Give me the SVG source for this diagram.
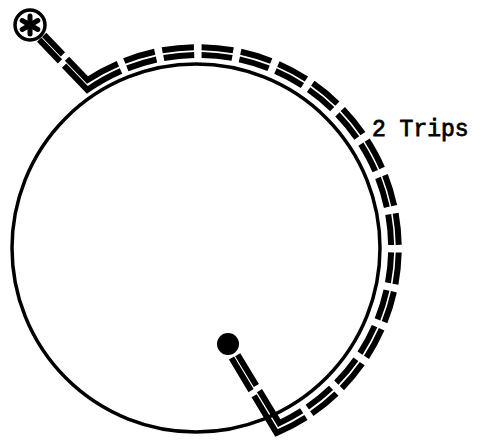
<svg xmlns="http://www.w3.org/2000/svg" width="485" height="441" viewBox="0 0 485 441">
<style>
.thin{fill:none;stroke:#000;stroke-width:3.5}
.trk{fill:none;stroke:#000;stroke-width:6;stroke-linejoin:miter}
.lbl{font-family:"Liberation Mono","Courier New",monospace;font-size:23px;fill:#000;stroke:#000;stroke-width:0.8}
</style>
<rect width="485" height="441" fill="#fff"/>
<g id="loop">
<circle class="thin" cx="196" cy="248" r="184"/>
</g>
<g id="start">
<circle cx="30" cy="25" r="15" fill="#fff" stroke="#000" stroke-width="3.5"/>
<g stroke="#000" stroke-width="5" stroke-linecap="round">
<line x1="30" y1="16" x2="30" y2="34"/>
<line x1="22.2" y1="20.5" x2="37.8" y2="29.5"/>
<line x1="22.2" y1="29.5" x2="37.8" y2="20.5"/>
</g>
</g>
<g id="end">
<circle cx="228" cy="344" r="11" fill="#000"/>
</g>
<g id="connectors">
<path class="trk" d="M39.2,39.7 L87.3,89.9 A193,193 0 0 1 121.0,71.0" stroke-dasharray="30 6 1000"/>
<path class="trk" d="M44.2,34.9 L87.5,80 A201,201 0 0 1 117.9,63.7" stroke-dasharray="27 6 1000"/>
<path class="trk" d="M127.3,68.4 A193,193 0 0 1 307.3,407.1" pathLength="167" stroke-dasharray="9.08 2.2"/>
<path class="trk" d="M124.3,61.0 A201,201 0 0 1 311.8,413.6" pathLength="167" stroke-dasharray="9.08 2.2"/>
<path class="trk" d="M231.5,358 L276.5,433 A201,201 0 0 0 306.0,417.5" stroke-dasharray="38 6 1000"/>
<path class="trk" d="M237.7,354.7 L279.2,423.1 A193,193 0 0 0 301.7,410.8" stroke-dasharray="36 6 1000"/>
</g>
<g id="label">
<text class="lbl" x="372" y="136">2 Trips</text>
</g>
</svg>
